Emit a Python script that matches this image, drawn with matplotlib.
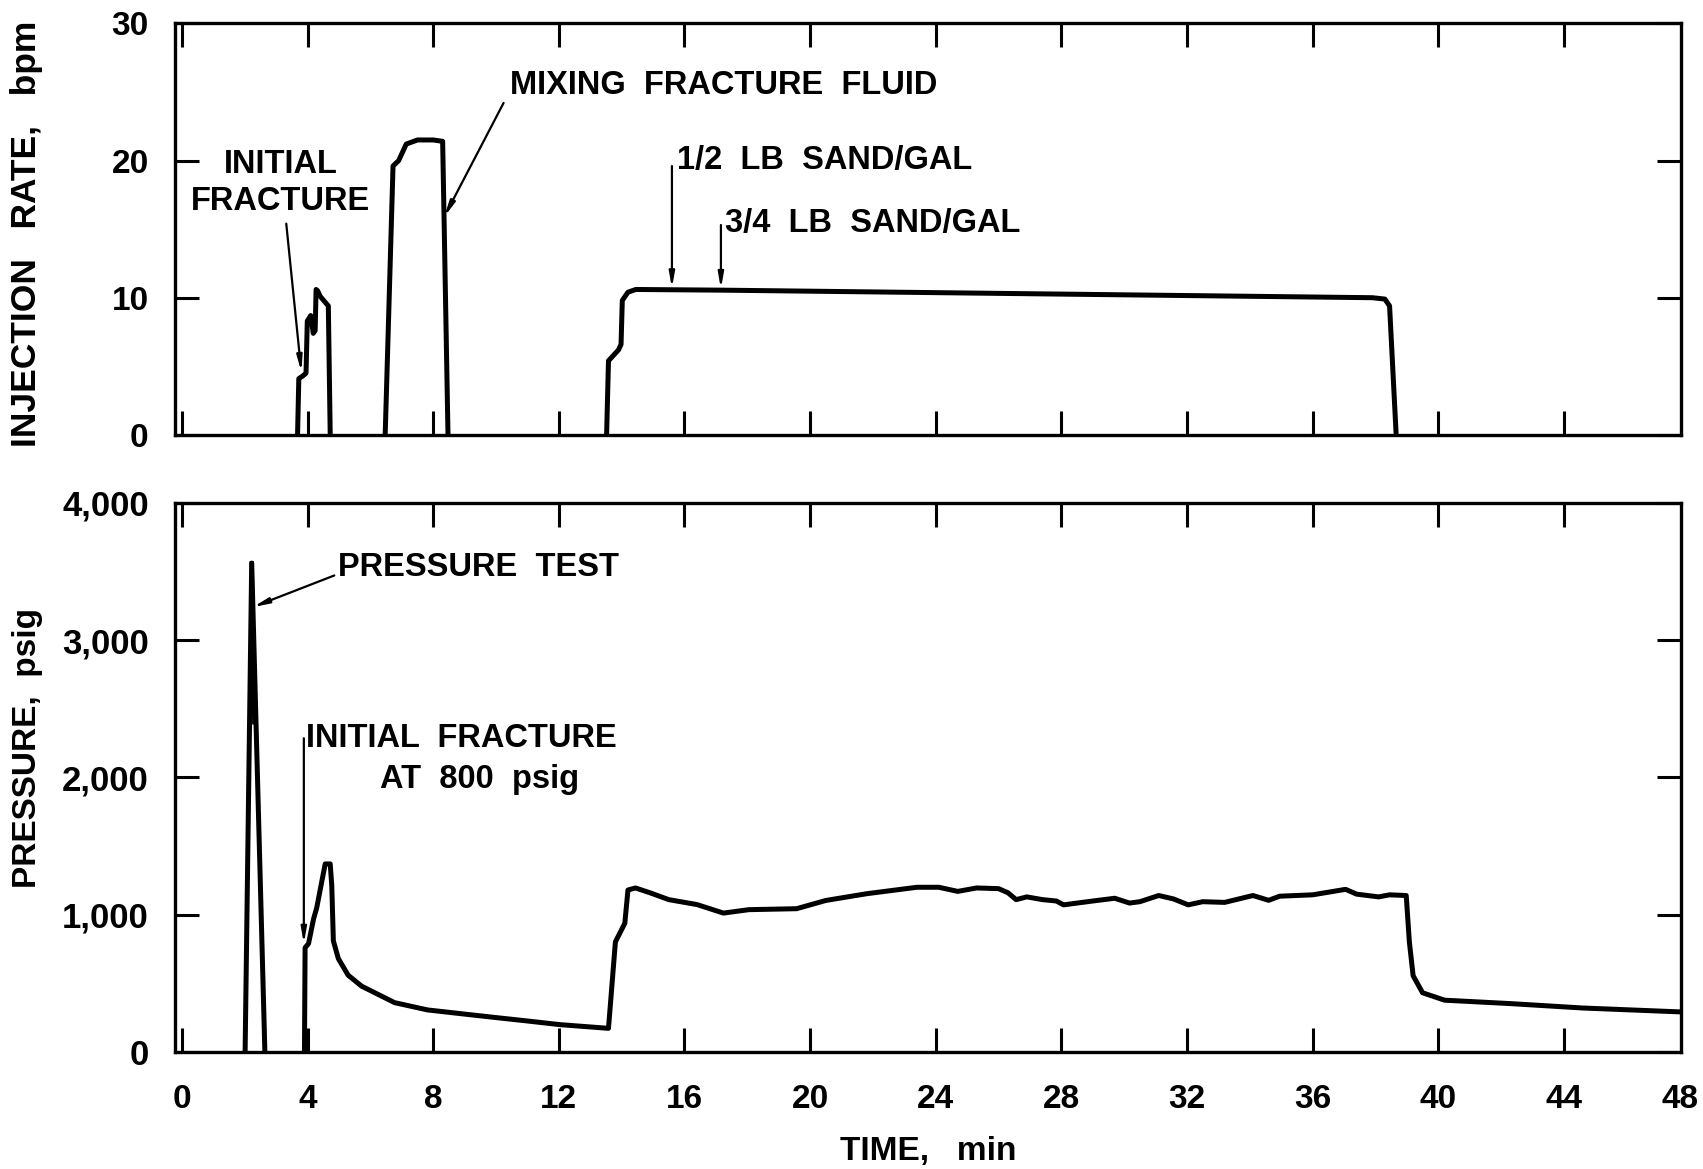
import matplotlib
matplotlib.use("Agg")
import matplotlib.pyplot as plt

plt.rcParams['font.family'] = ['Liberation Sans', 'DejaVu Sans']
plt.rcParams['font.weight'] = 'bold'

# injection rate, bpm (three pumping periods)
rate_t1 = [3.68, 3.72, 3.85, 3.95, 3.99, 4.1, 4.18, 4.24, 4.27, 4.32, 4.4, 4.66, 4.72]
rate_v1 = [0, 4.1, 4.3, 4.5, 8.3, 8.7, 7.4, 7.6, 10.6, 10.5, 10.1, 9.4, 0]
rate_t2 = [6.47, 6.72, 6.9, 7.0, 7.14, 7.5, 8.0, 8.3, 8.47]
rate_v2 = [0, 19.6, 20.0, 20.5, 21.2, 21.5, 21.5, 21.4, 0]
rate_t3 = [13.52, 13.58, 13.9, 13.98, 14.02, 14.2, 14.45, 17.2, 37.9, 38.3, 38.45, 38.66]
rate_v3 = [0, 5.4, 6.2, 6.6, 9.8, 10.4, 10.6, 10.55, 10.0, 9.9, 9.4, 0]

# wellhead pressure, psig
ptest_t = [2.01, 2.22, 2.64]
ptest_v = [0, 3560, 0]
ptest_inner_t = [2.22, 2.3]
ptest_inner_v = [3560, 2400]
pres_t = [3.9, 3.92, 4.03, 4.19, 4.29, 4.45, 4.56, 4.72, 4.77, 4.82, 4.98, 5.29,
          5.72, 6.77, 7.82, 8.87, 9.93, 10.98, 12.03, 13.58, 13.8, 14.1, 14.2,
          14.44, 14.9, 15.5, 16.4, 17.24, 18.05, 19.57, 20.5, 21.8, 23.4, 24.1,
          24.7, 25.3, 26.0, 26.3, 26.56, 26.9, 27.4, 27.84, 28.07, 29.0, 29.7,
          30.17, 30.5, 31.1, 31.57, 32.04, 32.5, 33.2, 34.1, 34.6, 34.95, 36.0,
          37.05, 37.4, 38.1, 38.45, 38.98, 39.08, 39.2, 39.5, 40.2, 42.3, 44.6, 48.0]
pres_v = [0, 760, 790, 970, 1050, 1240, 1370, 1370, 1210, 810, 680, 560,
          480, 360, 307, 280, 253, 227, 200, 173, 802, 938, 1180, 1195, 1160,
          1110, 1074, 1012, 1037, 1044, 1104, 1153, 1200, 1200, 1170, 1195,
          1190, 1160, 1110, 1130, 1110, 1100, 1072, 1100, 1120, 1085, 1095,
          1140, 1115, 1072, 1095, 1090, 1140, 1105, 1135, 1145, 1185, 1150,
          1130, 1145, 1140, 802, 556, 432, 378, 353, 321, 290]

xticks = list(range(0, 45, 4))
rate_ticks = [0, 10, 20, 30]
pres_ticks = [0, 1000, 2000, 3000, 4000]
pres_labels = ['0', '1,000', '2,000', '3,000', '4,000']

fig = plt.figure(figsize=(17.03, 11.69), dpi=100)
ax1 = fig.add_axes([0.1028, 0.628, 0.8843, 0.352])
ax2 = fig.add_axes([0.1028, 0.100, 0.8843, 0.470])

lw = 3.6
for t, v in [(rate_t1, rate_v1), (rate_t2, rate_v2), (rate_t3, rate_v3)]:
    ax1.plot(t, v, color='black', lw=lw, solid_joinstyle='round')
ax2.plot(ptest_t, ptest_v, color='black', lw=lw)
ax2.plot(ptest_inner_t, ptest_inner_v, color='black', lw=3)
ax2.plot(pres_t, pres_v, color='black', lw=lw, solid_joinstyle='round')

xpad = 23
for ax in (ax1, ax2):
    ax.set_xlim(-0.22, 47.73)
    ax.set_xticks(xticks)
    ax.tick_params(direction='in', length=17, width=2.2, top=True, right=True,
                   labelsize=24)
    ax.tick_params(axis='x', pad=xpad)
    ax.tick_params(axis='y', pad=19)
    for s in ax.spines.values():
        s.set_linewidth(2.4)

ax1.set_ylim(0, 30)
ax1.set_yticks(rate_ticks)
ax1.tick_params(labelbottom=False)
ax1.set_ylabel('INJECTION   RATE,   bpm', fontsize=25.5, fontweight='bold')
ax1.yaxis.set_label_coords(-0.088, 0.489)

ax2.set_ylim(0, 4000)
ax2.set_yticks(pres_ticks)
ax2.set_yticklabels(pres_labels)
ax2.tick_params(axis='y', labelsize=25)
ax2.set_ylabel('PRESSURE,  psig', fontsize=24, fontweight='bold')
ax2.yaxis.set_label_coords(-0.088, 0.554)
ax2.set_xlabel('TIME,   min', fontsize=24, fontweight='bold', labelpad=15)

# last tick label sits just beyond the frame
ax2.annotate('48', xy=(48.3, 0), xycoords=('data', 'axes fraction'),
             xytext=(0, -xpad), textcoords='offset points', ha='right',
             va='top', fontsize=24, fontweight='bold', annotation_clip=False)

fs = 23.5
thin = dict(arrowstyle='-|>,head_width=0.16,head_length=0.9', color='black',
            lw=1.6, shrinkA=0, shrinkB=0)

# top panel annotations
ax1.text(3.14, 19.7, 'INITIAL', ha='center', va='center', fontsize=fs, fontweight='bold')
ax1.text(3.14, 17.0, 'FRACTURE', ha='center', va='center', fontsize=fs, fontweight='bold')
ax1.annotate('', xy=(3.8, 4.6), xytext=(3.32, 15.4), arrowprops=thin)

ax1.text(10.46, 25.5, 'MIXING  FRACTURE  FLUID', ha='left', va='center',
         fontsize=fs, fontweight='bold')
ax1.annotate('', xy=(8.35, 15.9), xytext=(10.24, 24.2), arrowprops=thin)

ax1.text(15.75, 20.0, '1/2  LB  SAND/GAL', ha='left', va='center',
         fontsize=fs, fontweight='bold')
ax1.annotate('', xy=(15.6, 10.7), xytext=(15.6, 19.6), arrowprops=thin)
ax1.text(17.28, 15.4, '3/4  LB  SAND/GAL', ha='left', va='center',
         fontsize=fs, fontweight='bold')
ax1.annotate('', xy=(17.16, 10.65), xytext=(17.16, 15.3), arrowprops=thin)

# bottom panel annotations
ax2.text(4.97, 3526, 'PRESSURE  TEST', ha='left', va='center',
         fontsize=fs, fontweight='bold')
ax2.annotate('', xy=(2.26, 3240), xytext=(4.85, 3470), arrowprops=thin)

ax2.text(8.9, 2285, 'INITIAL  FRACTURE', ha='center', va='center',
         fontsize=fs, fontweight='bold')
ax2.text(9.46, 1984, 'AT  800  psig', ha='center', va='center',
         fontsize=fs, fontweight='bold')
ax2.annotate('', xy=(3.88, 790), xytext=(3.88, 2285), arrowprops=thin)

fig.savefig('out.png', dpi=100)
